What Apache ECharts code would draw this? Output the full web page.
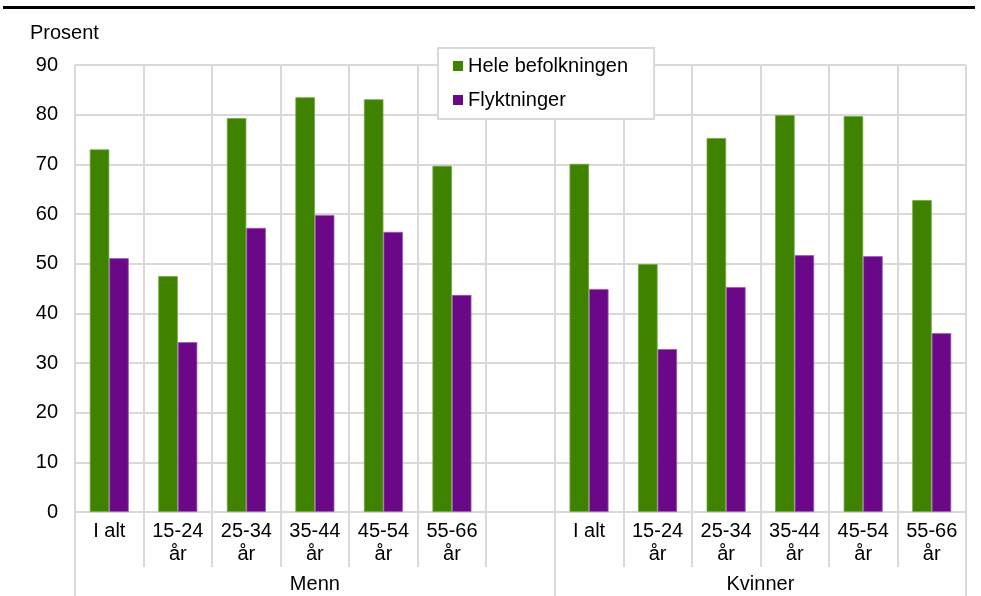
<!DOCTYPE html>
<html>
<head>
<meta charset="utf-8">
<script src="https://cdn.jsdelivr.net/npm/echarts@6/dist/echarts.min.js"></script>
<style>
html,body{margin:0;padding:0;background:#fff;}
#chart{width:981px;height:596px;}
</style>
</head>
<body>
<div id="chart"></div>
<script>
const categories = ['I alt','15-24\når','25-34\når','35-44\når','45-54\når','55-66\når','',
                    'I alt','15-24\når','25-34\når','35-44\når','45-54\når','55-66\når'];
const groupLabels = ['Menn','Kvinner'];
const seriesNames = ['Hele befolkningen','Flyktninger'];
const heleBefolkningen = [73.0,47.5,79.3,83.5,83.1,69.7,null,70.1,49.9,75.3,79.9,79.7,62.8];
const flyktninger      = [51.1,34.2,57.2,59.8,56.4,43.7,null,44.9,32.8,45.3,51.7,51.5,36.0];
const yTicks = {min:0,max:90,interval:10};

// secondary axis for group labels: 27 boundary points
const groupAxisData = [];
for (let i = 0; i < 27; i++) groupAxisData.push('');
groupAxisData[7] = groupLabels[0];
groupAxisData[20] = groupLabels[1];
const groupTicks = [0,14,26];

const font = 'Liberation Sans, Arial, sans-serif';
const fs = 20;
const grid = '#d9d9d9';
const chart = echarts.init(document.getElementById('chart'), null, {renderer:'canvas'});
chart.setOption({
  animation:false,
  backgroundColor:'#fff',
  textStyle:{fontFamily:font},
  grid:{left:75,right:15,top:65,bottom:84,containLabel:false},
  legend:{
    data:seriesNames,
    orient:'vertical',
    left:438, top:48,
    itemWidth:10, itemHeight:10,
    itemGap:14,
    icon:'rect',
    padding:[8,26,9,15],
    backgroundColor:'#fff',
    borderColor:grid, borderWidth:2,
    itemStyle:{borderWidth:0},
    textStyle:{fontSize:fs,color:'#000',fontFamily:font,padding:[0,0,0,0]}
  },
  xAxis:[{
    type:'category',
    data:categories,
    position:'bottom',
    axisLine:{show:true,lineStyle:{color:grid,width:2}},
    axisTick:{show:true,interval:0,length:55,lineStyle:{color:grid,width:2}},
    splitLine:{show:true,interval:0,lineStyle:{color:grid,width:2}},
    axisLabel:{interval:0,fontSize:fs,color:'#000',fontFamily:font,lineHeight:23,margin:8}
  },{
    type:'category',
    data:groupAxisData,
    position:'bottom',
    boundaryGap:false,
    axisLine:{show:false},
    axisTick:{show:true,length:84,lineStyle:{color:grid,width:2},
      interval:function(i){return groupTicks.indexOf(i)>=0;}},
    axisLabel:{interval:0,fontSize:fs,color:'#000',fontFamily:font,margin:62}
  }],
  yAxis:{
    type:'value',
    min:yTicks.min,max:yTicks.max,interval:yTicks.interval,
    axisLine:{show:false},
    axisTick:{show:false},
    splitLine:{show:true,lineStyle:{color:grid,width:2}},
    axisLabel:{fontSize:fs,color:'#000',fontFamily:font,margin:17}
  },
  series:[{
    name:seriesNames[0],
    type:'bar',
    data:heleBefolkningen,
    barWidth:19.5,
    barGap:'0%',
    itemStyle:{color:'#3f8200',borderColor:'#6fa83f',borderWidth:0.8}
  },{
    name:seriesNames[1],
    type:'bar',
    data:flyktninger,
    barWidth:19.5,
    barGap:'0%',
    itemStyle:{color:'#6a0888',borderColor:'#9a5cb0',borderWidth:0.8}
  }],
  graphic:[
    {type:'rect',shape:{x:3,y:6,width:972,height:3},style:{fill:'#000'}},
    {type:'text',left:30,top:23,style:{text:'Prosent',fontSize:fs,fill:'#000',fontFamily:font}}
  ]
});
</script>
</body>
</html>
